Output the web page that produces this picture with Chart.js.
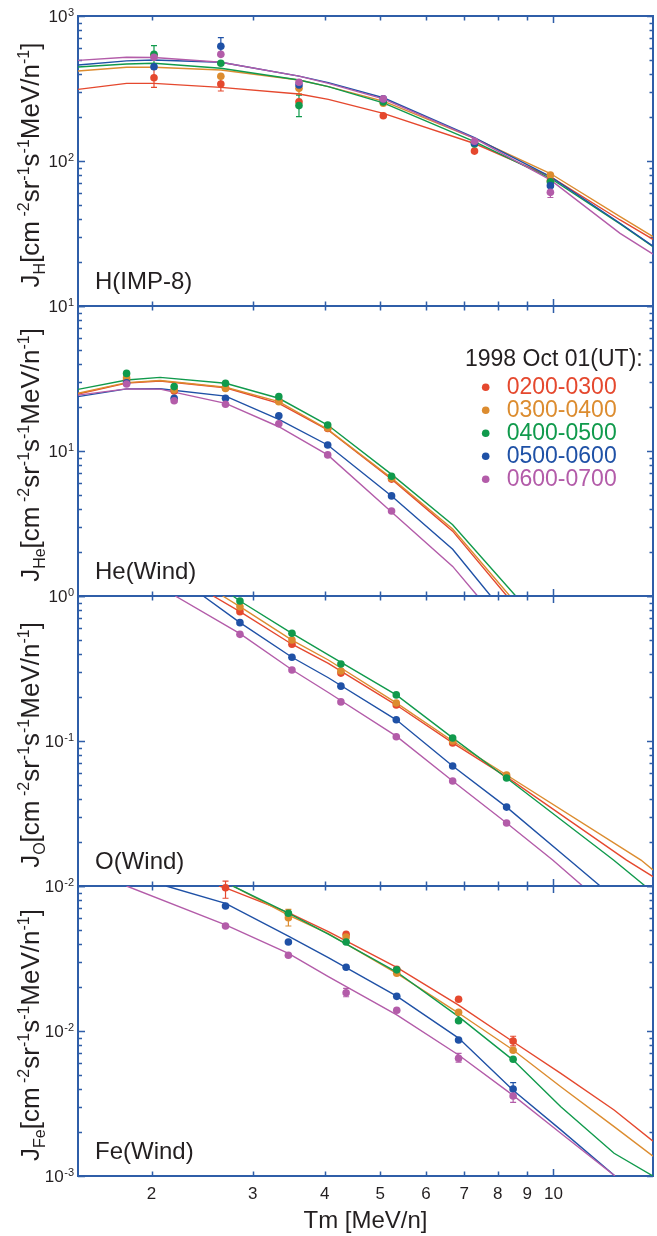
<!DOCTYPE html>
<html><head><meta charset="utf-8">
<script src="https://cdn.jsdelivr.net/npm/chart.js@4.4.0/dist/chart.umd.min.js"></script>
<style>
html,body{margin:0;padding:0;background:#fff;}
#wrap{position:relative;width:657px;height:1236px;overflow:hidden;background:#fff;}
canvas{position:absolute;left:0;}
</style></head><body>
<div id="wrap">
<canvas id="c0" width="657" height="322" style="top:0px"></canvas>
<canvas id="c1" width="657" height="322" style="top:290px"></canvas>
<canvas id="c2" width="657" height="322" style="top:580px"></canvas>
<canvas id="c3" width="657" height="366" style="top:870px"></canvas>
</div>
<script>
// ---------- shared categories / ticks ----------
const seriesNames = ['0200-0300','0300-0400','0400-0500','0500-0600','0600-0700'];
const seriesColors = ['#e5482e','#dc8c2f','#109a4c','#1f51a6','#b35ca9'];
const legendTitle = '1998 Oct 01(UT):';
const xTitle = 'Tm [MeV/n]';
const xTicks = [2,3,4,5,6,7,8,9,10];
const xMin = 1.49, xMax = 14.9;

// ---------- H (IMP-8) ----------
const hPointX = [2.02, 2.64, 3.61, 5.06, 7.29, 9.88];
const hPointY = [
  [375, 340, 256, 205, 117, 73],
  [535, 384, 317, 250, 135, 80],
  [544, 472, 241, 255, 131, 72],
  [447, 618, 334, 268, 133, 67.6],
  [519, 544, 349, 268, 137, 60.8]
];
const hLineGrid = [1.49, 1.81, 2.02, 2.64, 3.61, 4.06, 5.06, 7.29, 9.88, 13.06, 14.9];
const hLineY = [
  [312, 343, 343, 322, 290, 266, 213, 132, 78, 39.2, 28.8],
  [418, 443, 443, 424, 362, 326, 259, 143, 82, 41.3, 30.1],
  [445, 467, 472, 436, 362, 326, 252, 136, 76, 36.8, 25.7],
  [459, 490, 497, 480, 385, 347, 273, 145, 78, 37.2, 25.9],
  [494, 519, 517, 480, 385, 343, 268, 143, 74, 31.7, 22.8]
];
const hErr = [[2, 2.02, 470, 624], [0, 2.02, 322, 430], [3, 2.64, 540, 709], [0, 2.64, 304, 380],
              [2, 3.61, 202, 285], [1, 3.61, 290, 345], [4, 9.88, 56, 66]];
const hYTicks = [1000, 100, 10], hYExp = ['3', '2', '1'];

// ---------- He (Wind) ----------
const hePointX = [1.81, 2.19, 2.69, 3.33, 4.05, 5.23];
const hePointY = [
  [30.9, 25.9, 27.3, 22.1, 14.3, 6.4],
  [32.0, 26.4, 27.0, 21.9, 14.4, 6.5],
  [34.3, 27.8, 29.3, 23.7, 15.1, 6.7],
  [29.5, 23.1, 23.1, 17.5, 11.0, 4.9],
  [29.0, 22.2, 21.0, 15.4, 9.4, 3.86]
];
const heLineX = [
  [1.49, 1.81, 2.07, 2.69, 3.33, 4.05, 5.23, 6.68, 8.3],
  [1.49, 1.81, 2.07, 2.69, 3.33, 4.05, 5.23, 6.68, 8.4],
  [1.49, 1.81, 2.07, 2.69, 3.33, 4.05, 5.23, 6.68, 8.6],
  [1.49, 1.81, 2.07, 2.69, 3.33, 4.05, 5.23, 6.68, 7.78],
  [1.49, 1.81, 2.07, 2.69, 3.33, 4.05, 5.23, 6.68, 7.38]
];
const heLineY = [
  [24.7, 29.4, 30.4, 27.3, 21.3, 14.0, 6.4, 2.8, 1.0],
  [25.0, 29.6, 30.6, 27.5, 21.9, 14.1, 6.5, 2.9, 1.0],
  [26.6, 30.9, 32.2, 29.3, 23.1, 15.1, 6.9, 3.1, 1.0],
  [23.7, 26.8, 26.9, 23.9, 16.5, 11.0, 4.9, 2.1, 1.0],
  [24.3, 26.8, 26.7, 21.3, 14.7, 9.4, 3.8, 1.6, 1.0]
];
const heErr = [];
const heYTicks = [10, 1], heYExp = ['1', '0'];

// ---------- O (Wind) ----------
const oPointX = [2.85, 3.51, 4.27, 5.33, 6.68, 8.29];
const oPointY = [
  [0.78, 0.465, 0.294, 0.177, 0.097, 0.0565],
  [0.844, 0.497, 0.304, 0.183, 0.100, 0.0583],
  [0.924, 0.553, 0.340, 0.208, 0.105, 0.0556],
  [0.655, 0.378, 0.239, 0.140, 0.0673, 0.035],
  [0.544, 0.309, 0.186, 0.107, 0.053, 0.0272]
];
const oLineX = [
  [2.56, 2.85, 3.51, 4.06, 5.33, 6.68, 8.29, 13.4, 14.9],
  [2.66, 2.85, 3.51, 4.06, 5.33, 6.68, 8.29, 14.2, 14.9],
  [2.77, 2.85, 3.51, 4.06, 5.33, 6.68, 8.29, 12.72, 14.44],
  [2.46, 2.85, 3.51, 4.06, 5.33, 6.68, 8.29, 10.66, 12.06],
  [2.2, 2.85, 3.51, 4.06, 5.33, 6.68, 8.29, 9.97, 11.24]
];
const oLineY = [
  [1.0, 0.78, 0.465, 0.343, 0.177, 0.097, 0.0565, 0.0151, 0.0116],
  [1.0, 0.844, 0.497, 0.362, 0.183, 0.100, 0.0583, 0.0151, 0.0129],
  [1.0, 0.924, 0.553, 0.392, 0.208, 0.105, 0.0556, 0.0151, 0.01],
  [1.0, 0.655, 0.378, 0.273, 0.140, 0.0673, 0.035, 0.0151, 0.01],
  [1.0, 0.55, 0.31, 0.216, 0.108, 0.053, 0.0272, 0.0151, 0.01]
];
const oErr = [];
const oYTicks = [0.1, 0.01], oYExp = ['-1', '-2'];

// ---------- Fe (Wind) ----------
const fePointX = [2.69, 3.46, 4.36, 5.34, 6.84, 8.51];
const fePointY = [
  [0.0973, 0.064, 0.0465, 0.0266, 0.01656, 0.00853],
  [null, 0.0604, 0.0445, 0.025, 0.01346, 0.00736],
  [null, 0.0648, 0.0411, 0.0264, 0.01178, 0.00638],
  [0.0728, 0.0411, 0.0275, 0.01733, 0.00867, 0.00398],
  [0.053, 0.0333, 0.01836, 0.0139, 0.00648, 0.00356]
];
const feLineX = [
  [2.62, 2.69, 3.46, 4.06, 5.34, 6.84, 8.51, 10.3, 12.75, 14.9],
  [2.77, 3.46, 4.06, 5.34, 6.84, 8.51, 10.3, 12.75, 14.9],
  [2.77, 3.46, 4.06, 5.34, 6.84, 8.51, 10.3, 12.75, 14.9],
  [2.12, 2.69, 3.46, 4.06, 5.34, 6.84, 8.51, 10.3, 12.8],
  [1.81, 2.69, 3.46, 4.06, 5.34, 6.84, 8.51, 10.3, 12.8]
];
const feLineY = [
  [0.1, 0.097, 0.0655, 0.0484, 0.0275, 0.0151, 0.00843, 0.0051, 0.00285, 0.00174],
  [0.1, 0.063, 0.047, 0.025, 0.0133, 0.0074, 0.00413, 0.00219, 0.00137],
  [0.1, 0.065, 0.0466, 0.0255, 0.01256, 0.0063, 0.0030, 0.001435, 0.001],
  [0.1, 0.076, 0.0452, 0.0321, 0.0174, 0.00894, 0.0039, 0.00208, 0.001],
  [0.1, 0.054, 0.0343, 0.0237, 0.0129, 0.00683, 0.0036, 0.00197, 0.001]
];
const feErr = [[0, 2.69, 0.0823, 0.108], [1, 3.46, 0.053, 0.069], [0, 8.51, 0.0079, 0.0092],
               [4, 8.51, 0.00322, 0.00396], [3, 8.51, 0.0036, 0.00441], [4, 6.84, 0.0061, 0.0070],
               [4, 4.36, 0.01723, 0.01968]];
const feYTicks = [0.01, 0.001], feYExp = ['-2', '-3'];

// ---------- styling ----------
const AXIS = '#2f5ea8';
const INK = '#231f20';
const FONT = '"Liberation Sans", Arial, Helvetica, sans-serif';
Chart.defaults.font.family = FONT;

function makeDatasets(pX, pY, lX, lY) {
  const ds = [];
  for (let s = 0; s < 5; s++) {
    const pts = [];
    pX.forEach((x, i) => { if (pY[s][i] != null) pts.push({x: x, y: pY[s][i]}); });
    ds.push({label: seriesNames[s], data: pts, showLine: false, pointRadius: 3.8,
      pointBackgroundColor: seriesColors[s], pointBorderWidth: 0, borderColor: seriesColors[s],
      clip: false, order: 4 - s});
  }
  for (let s = 0; s < 5; s++) {
    ds.push({label: seriesNames[s] + ' fit', data: lX[s].map((x, i) => ({x: x, y: lY[s][i]})),
      showLine: true, pointRadius: 0, borderColor: seriesColors[s], borderWidth: 1.4,
      fill: false, tension: 0, clip: 0, order: 20 - s});
  }
  return ds;
}

function drawSupLabel(ctx, xRight, y, base, exp) {
  ctx.save();
  ctx.fillStyle = INK;
  ctx.font = '11px ' + FONT;
  const ew = ctx.measureText(exp).width;
  ctx.textAlign = 'left'; ctx.textBaseline = 'alphabetic';
  ctx.fillText(exp, xRight - ew, y - 0.5);
  ctx.font = '17px ' + FONT;
  ctx.textAlign = 'right'; ctx.textBaseline = 'middle';
  ctx.fillText(base, xRight - ew - 0.5, y + 1);
  ctx.restore();
}

function drawYTitle(ctx, cx, cy, sub) {
  const parts = [['J', 26, 0], [sub, 16, 6], ['[cm', 26, 0], [' -2', 16, -10], ['sr', 26, 0], ['-1', 16, -10],
                 ['s', 26, 0], ['-1', 16, -10], ['MeV/n', 26, 0], ['-1', 16, -10], [']', 26, 0]];
  ctx.save();
  ctx.translate(cx, cy); ctx.rotate(-Math.PI / 2);
  let total = 0;
  parts.forEach(p => { ctx.font = p[1] + 'px ' + FONT; total += ctx.measureText(p[0]).width; });
  let x = -total / 2;
  ctx.fillStyle = INK; ctx.textAlign = 'left'; ctx.textBaseline = 'alphabetic';
  parts.forEach(p => { ctx.font = p[1] + 'px ' + FONT; ctx.fillText(p[0], x, p[2]); x += ctx.measureText(p[0]).width; });
  ctx.restore();
}

function decor(cfg) {
  return {
    id: 'decor' + cfg.key,
    beforeDatasetsDraw(chart) {
      const ctx = chart.ctx, a = chart.chartArea, xs = chart.scales.x, ys = chart.scales.y;
      ctx.save();
      ctx.strokeStyle = AXIS; ctx.lineWidth = 2;
      ctx.strokeRect(a.left, a.top, a.right - a.left, a.bottom - a.top);
      ctx.lineWidth = 1.5;
      ctx.beginPath();
      xTicks.forEach(v => {
        const px = Math.round(xs.getPixelForValue(v)) + 0.5;
        const len = (v === 10) ? 7 : 4.5;
        ctx.moveTo(px, a.top); ctx.lineTo(px, a.top + len);
        ctx.moveTo(px, a.bottom); ctx.lineTo(px, a.bottom - len);
      });
      for (let d = ys.min; d < ys.max * 1.0001; d *= 10) {
        for (let m = 1; m <= 9; m++) {
          const v = d * m;
          if (v > ys.max * 1.0001) break;
          const py = Math.round(ys.getPixelForValue(v)) + 0.5;
          const major = (m === 1);
          ctx.moveTo(a.left, py); ctx.lineTo(a.left + (major ? 7 : 4), py);
          ctx.moveTo(a.right, py); ctx.lineTo(a.right - (major ? 6 : 3.5), py);
        }
      }
      ctx.stroke();
      cfg.err.forEach(e => {
        const px = xs.getPixelForValue(e[1]);
        const p1 = ys.getPixelForValue(e[2]), p2 = ys.getPixelForValue(e[3]);
        ctx.strokeStyle = seriesColors[e[0]]; ctx.lineWidth = 1.2;
        ctx.beginPath();
        ctx.moveTo(px, p1); ctx.lineTo(px, p2);
        ctx.moveTo(px - 3, p1); ctx.lineTo(px + 3, p1);
        ctx.moveTo(px - 3, p2); ctx.lineTo(px + 3, p2);
        ctx.stroke();
      });
      ctx.restore();
    },
    afterDatasetsDraw(chart) {
      const ctx = chart.ctx, a = chart.chartArea, ys = chart.scales.y;
      ctx.save();
      cfg.yTicks.forEach((v, i) => drawSupLabel(ctx, 74, ys.getPixelForValue(v), '10', cfg.yExp[i]));
      drawYTitle(ctx, 39, (a.top + a.bottom) / 2 + 4, cfg.sub);
      ctx.fillStyle = INK; ctx.font = '24px ' + FONT; ctx.textAlign = 'left'; ctx.textBaseline = 'alphabetic';
      ctx.fillText(cfg.label, 95, a.bottom - 17);
      if (cfg.legend) {
        ctx.font = '23px ' + FONT;
        ctx.fillStyle = INK;
        ctx.fillText(legendTitle, 465, a.top + 60);
        seriesNames.forEach((n, i) => {
          const cy = a.top + 81.3 + 23 * i;
          ctx.fillStyle = seriesColors[i];
          ctx.beginPath(); ctx.arc(485.7, cy, 3.8, 0, Math.PI * 2); ctx.fill();
          ctx.textBaseline = 'middle';
          ctx.fillText(n, 506.7, cy + 0.5);
        });
      }
      ctx.restore();
    }
  };
}

function makeChart(id, yMin, yMax, datasets, isLast, cfg) {
  const xScale = {type: 'logarithmic', min: xMin, max: xMax, display: isLast, position: 'bottom',
    grid: {display: false, drawTicks: false}, border: {display: false},
    afterBuildTicks: s => { s.ticks = xTicks.map(v => ({value: v})); },
    ticks: {color: INK, font: {family: FONT, size: 17}, padding: 8, maxRotation: 0, autoSkip: false,
            callback: v => String(v)},
    title: {display: true, text: xTitle, color: INK, font: {family: FONT, size: 24}, padding: {top: 0, bottom: 0}}};
  if (isLast) xScale.afterFit = s => { s.height = 60; };
  return new Chart(document.getElementById(id), {
    type: 'scatter',
    data: {datasets: datasets},
    options: {
      responsive: false, animation: false, devicePixelRatio: 1, events: [],
      layout: {padding: {left: 78, right: 1, top: 16, bottom: isLast ? 0 : 16}},
      scales: {
        x: xScale,
        y: {type: 'logarithmic', min: yMin, max: yMax, display: false}
      },
      plugins: {legend: {display: false}, tooltip: {enabled: false}}
    },
    plugins: [decor(cfg)]
  });
}

makeChart('c0', 10, 1000, makeDatasets(hPointX, hPointY, Array(5).fill(hLineGrid), hLineY), false,
  {key: 'H', sub: 'H', label: 'H(IMP-8)', yTicks: hYTicks, yExp: hYExp, err: hErr, legend: false});
makeChart('c1', 1, 100, makeDatasets(hePointX, hePointY, heLineX, heLineY), false,
  {key: 'He', sub: 'He', label: 'He(Wind)', yTicks: heYTicks, yExp: heYExp, err: heErr, legend: true});
makeChart('c2', 0.01, 1, makeDatasets(oPointX, oPointY, oLineX, oLineY), false,
  {key: 'O', sub: 'O', label: 'O(Wind)', yTicks: oYTicks, yExp: oYExp, err: oErr, legend: false});
makeChart('c3', 0.001, 0.1, makeDatasets(fePointX, fePointY, feLineX, feLineY), true,
  {key: 'Fe', sub: 'Fe', label: 'Fe(Wind)', yTicks: feYTicks, yExp: feYExp, err: feErr, legend: false});
</script>
</body></html>
